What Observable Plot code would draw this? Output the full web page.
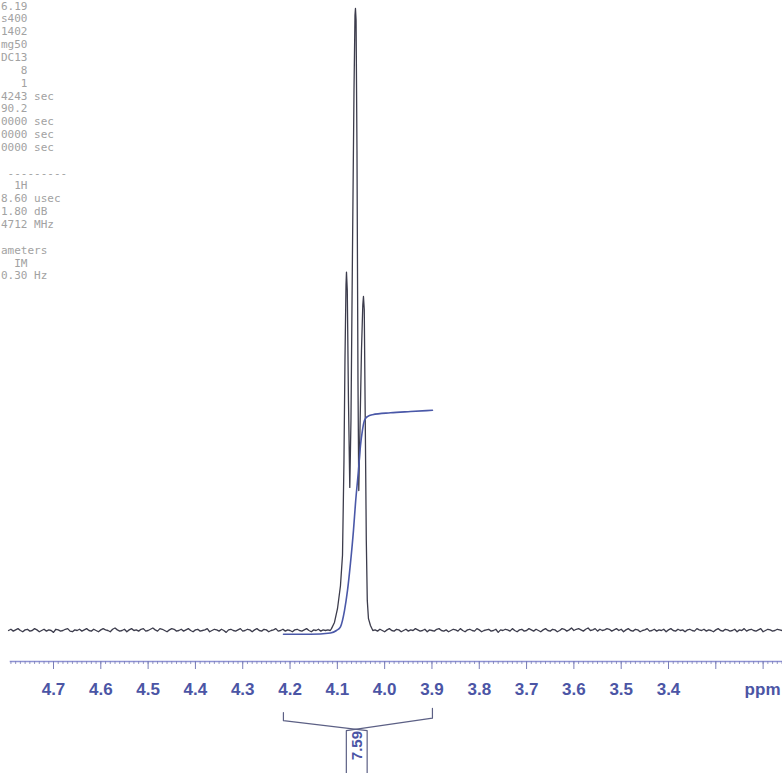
<!DOCTYPE html>
<html><head><meta charset="utf-8">
<script src="https://cdn.jsdelivr.net/npm/d3@7"></script>
<script src="https://cdn.jsdelivr.net/npm/@observablehq/plot@0.6"></script>
<style>
html,body{margin:0;padding:0;background:#fff;}
#chart svg text{white-space:pre;}
</style></head><body><div id="chart"></div>
<script>
// ---- Parameter block (top-left; only the visible right-hand fragments) ----
const paramLines = [
  "6.19","s400","1402","mg50","DC13","   8","   1","4243 sec","90.2",
  "0000 sec","0000 sec","0000 sec"," "," ---------","  1H","8.60 usec",
  "1.80 dB","4712 MHz"," ","ameters","  IM","0.30 Hz"
];

// ---- Axis ticks (ppm) ----
const tickLabels = [4.7,4.6,4.5,4.4,4.3,4.2,4.1,4.0,3.9,3.8,3.7,3.6,3.5,3.4];
const majorTicks = [4.7,4.6,4.5,4.4,4.3,4.2,4.1,4.0,3.9,3.8,3.7,3.6,3.5,3.4,3.3,3.2];
const minorTicks = d3.range(479, 315, -1).map(k => k / 100);

// ---- Spectrum (intensity, main peak = 1000) ----
const leftStart = 4.795, rightStart = 4.025, sampleStep = 0.005;
const leftNoise = [
  0,2,-1,1,3,0,-2,1,2,-1,0,3,1,-2,0,2,-1,1,0,-3,
  2,1,-1,0,2,3,-1,-2,1,0,2,-1,1,3,0,-1,2,0,-2,1,
  3,1,0,-2,2,4,1,-1,0,2,-2,1,3,0,1,-1,2,3,-1,0,
  2,4,1,-1,3,2,0,-2,1,3,2,-1,0,2,-1,1,3,0,-2,1,
  2,-1,0,1,3,-2,0,2,1,-1,2,0,-3,1,2,0,-1,1,3,-1,
  0,2,1,-2,1,3,0,-1,2,1,-2,0,1,3,-1,0,2,-1,1,0,
  -2,1,2,0,-1,1,3,0,-2,1,0,2,-1,1,0,1,0
];
const peakPpm = [4.1124,4.1061,4.0997,4.0934,4.0891,4.0860,4.0839,4.0817,4.0807,4.0790,
  4.0765,4.0737,4.0712,4.0680,4.0648,4.0627,4.0617,4.0604,4.0585,4.0564,4.0547,4.0522,
  4.0490,4.0462,4.0448,4.0431,4.0410,4.0388,4.0367,4.0342,4.0300];
const peakInt = [3,13,35,72,121,273,434,555,576,547,
  370,230,338,611,868,989,1000,981,772,402,225,322,
  450,523,537,516,338,145,48,19,8];
const rightNoise = [
  0,1,-1,2,0,-2,1,3,0,-1,2,1,-2,0,2,-1,1,0,3,1,
  -1,0,2,-2,1,0,-1,2,3,0,-1,1,-2,0,2,1,-1,3,0,-2,
  1,2,0,-1,3,1,-2,0,1,2,-1,0,2,-3,1,0,2,1,-1,3,
  0,-2,1,2,-1,0,3,1,-1,2,0,-2,1,3,0,-1,2,1,-2,0,
  3,2,-1,1,4,0,2,3,1,-1,2,4,0,1,3,-1,2,0,1,3,
  2,-1,1,3,0,2,-2,1,3,0,-1,2,1,-2,0,1,3,-1,0,2,
  -1,1,0,2,-2,1,3,0,-1,2,0,1,-2,1,2,0,-1,3,1,0,
  2,-1,1,0,-2,1,3,0,-1,2,1,-1,0,2,-2,1,0,3,-1,1,
  2,0,-1,1,3,-2,0,2,1,-1,0,2,1,0
];

// ---- Integral curve ----
const integralPpm = [4.2138,4.1567,4.1145,4.1018,4.0934,4.0849,4.0786,4.0723,4.0659,4.0617,
  4.0554,4.0511,4.0469,4.0426,4.0363,4.0257,3.9877,3.9454,3.8989];
const integralVal = [-6,-6,-4,0,6,32,64,108,161,204,257,297,322,338,344,347,350,352,354];
const integrals = [{from: 4.214, to: 3.899, center: 4.059, value: "7.59"}];

// ---- build tables ----
const spectrum = [
  ...leftNoise.map((v, i) => ({ppm: leftStart - i * sampleStep, v})),
  ...peakPpm.map((p, k) => ({ppm: p, v: peakInt[k]})),
  ...rightNoise.map((v, i) => ({ppm: rightStart - i * sampleStep, v}))
];
const integralCurve = integralPpm.map((p, k) => ({ppm: p, v: integralVal[k]}));

const half = 0.022;
const bracketL = integrals.flatMap(g => [
  {ppm: g.from, v: -132}, {ppm: g.from, v: -145}, {ppm: g.center - half, v: -161}, {ppm: g.center - half, v: -240}]);
const bracketR = integrals.flatMap(g => [
  {ppm: g.to, v: -125}, {ppm: g.to, v: -141}, {ppm: g.center + half, v: -161}, {ppm: g.center + half, v: -240}]);

const axisColor = "#8e92d4", tickColor = "#7a7eb8", labelColor = "#4b55a5";
const sans = "Liberation Sans, Arial, sans-serif";

const chart = Plot.plot({
  width: 782, height: 773,
  marginTop: 0, marginLeft: 10, marginRight: 0, marginBottom: 112,
  style: {background: "#fff"},
  x: {domain: [4.7, 3.4], range: [53, 668], axis: null, label: null},
  y: {domain: [0, 1000], range: [630, 8], axis: null, label: null},
  marks: [
    Plot.text([paramLines.join("\n")], {
      frameAnchor: "top-left", dx: -9.5, dy: 0, lineAnchor: "top", textAnchor: "start",
      fontFamily: "DejaVu Sans Mono, monospace", fontSize: 11, lineHeight: 1.168, fill: "#a2a2a2"
    }),
    Plot.frame({anchor: "bottom", stroke: axisColor, strokeWidth: 1.6}),
    Plot.axisX({ticks: minorTicks, anchor: "bottom", tickSize: 3, tickFormat: () => "", stroke: tickColor, strokeWidth: 0.8}),
    Plot.axisX({ticks: majorTicks, anchor: "bottom", tickSize: 8, tickFormat: () => "", stroke: tickColor, strokeWidth: 1}),
    Plot.text(tickLabels, {
      x: d => d, frameAnchor: "bottom", dy: 28.5, text: d => d.toFixed(1), lineAnchor: "middle",
      fontSize: 17, fontWeight: "bold", fontFamily: sans, fill: labelColor
    }),
    Plot.text(["ppm"], {
      frameAnchor: "bottom-right", dx: -2, dy: 28.5, textAnchor: "end", lineAnchor: "middle",
      fontSize: 17, fontWeight: "bold", fontFamily: sans, fill: labelColor
    }),
    Plot.line(spectrum, {x: "ppm", y: "v", stroke: "#3c3c4c", strokeWidth: 1.3}),
    Plot.line(integralCurve, {x: "ppm", y: "v", stroke: "#4a58a8", strokeWidth: 1.6, curve: "monotone-x"}),
    Plot.line(bracketL, {x: "ppm", y: "v", stroke: "#5c6085", strokeWidth: 1.2}),
    Plot.line(bracketR, {x: "ppm", y: "v", stroke: "#5c6085", strokeWidth: 1.2}),
    Plot.text(integrals, {
      x: "center", y: () => -185, text: "value", rotate: -90, lineAnchor: "middle",
      fontSize: 15, fontWeight: "bold", fontFamily: sans, fill: labelColor
    })
  ]
});
document.getElementById("chart").appendChild(chart);
</script>
</body></html>
